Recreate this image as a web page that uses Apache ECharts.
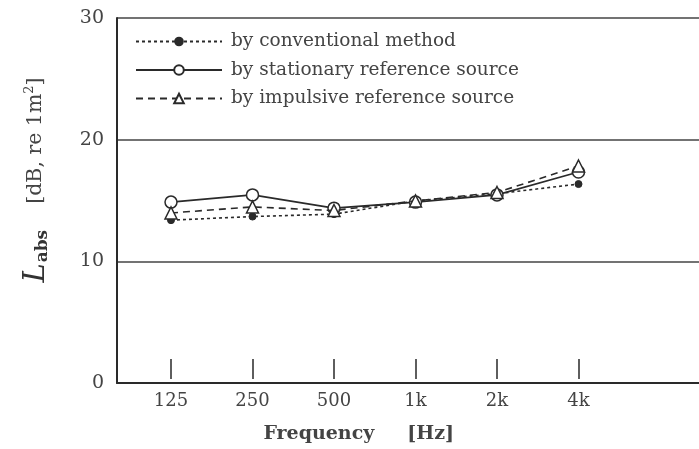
<!DOCTYPE html>
<html>
<head>
<meta charset="utf-8">
<script src="https://cdn.jsdelivr.net/npm/echarts@6/dist/echarts.min.js"></script>
<style>
html,body{margin:0;padding:0;background:#fff;}
#chart{width:699px;height:449px;}
</style>
</head>
<body>
<div id="chart"></div>
<script>
var categories = ['125', '250', '500', '1k', '2k', '4k'];
var conventional = [13.2, 13.5, 13.7, 14.8, 15.4, 16.2];
var stationary = [14.7, 15.3, 14.2, 14.7, 15.3, 17.2];
var impulsive = [13.8, 14.3, 14.0, 14.8, 15.5, 17.7];
var yTicks = [0, 10, 20, 30];

var ink = '#2a2a2a';
var serif = '"DejaVu Serif", "Liberation Serif", serif';

var chart = echarts.init(document.getElementById('chart'));
chart.setOption({
  animation: false,
  backgroundColor: '#fff',
  grid: [
    {left: 117, right: -5, top: 18, bottom: 66},
    {left: 130.25, width: 489, top: 18, bottom: 66}
  ],
  xAxis: [
    {gridIndex: 0, type: 'value', min: 0, max: 1,
      axisLine: {show: true, lineStyle: {color: ink, width: 2}},
      axisTick: {show: false}, axisLabel: {show: false}, splitLine: {show: false}},
    {gridIndex: 1, type: 'category', data: categories, boundaryGap: true,
      axisLine: {show: false},
      axisTick: {show: true, inside: true, length: 20, alignWithLabel: true, lineStyle: {color: ink, width: 1.5}},
      axisLabel: {color: '#444', fontFamily: serif, fontSize: 18, margin: 13},
      name: 'Frequency     [Hz]',
      nameLocation: 'middle', nameGap: 46,
      nameTextStyle: {color: '#444', fontFamily: serif, fontSize: 19, fontWeight: 'bold', padding: [0, 32, 0, 0]}}
  ],
  yAxis: [
    {gridIndex: 0, type: 'value', min: yTicks[0], max: yTicks[yTicks.length - 1], interval: 10,
      axisLine: {show: true, lineStyle: {color: ink, width: 2}},
      axisTick: {show: false},
      axisLabel: {color: '#444', fontFamily: serif, fontSize: 19, margin: 13},
      splitLine: {show: true, lineStyle: {color: '#444', width: 1.5}}},
    {gridIndex: 1, type: 'value', min: 0, max: 30, show: false, splitLine: {show: false}}
  ],
  legend: {
    orient: 'vertical', left: 130, top: 27, itemWidth: 86, itemHeight: 12, itemGap: 9.5,
    textStyle: {color: '#444', fontFamily: serif, fontSize: 18.5, padding: [0, 0, 0, 4]},
    data: ['by conventional method', 'by stationary reference source', 'by impulsive reference source']
  },
  series: [
    {name: 'by conventional method', type: 'line', xAxisIndex: 1, yAxisIndex: 1, data: conventional,
      symbol: 'circle', symbolSize: 7,
      itemStyle: {color: ink, borderColor: ink},
      lineStyle: {color: ink, width: 1.6, type: [3, 3]}, z: 3},
    {name: 'by stationary reference source', type: 'line', xAxisIndex: 1, yAxisIndex: 1, data: stationary,
      symbol: 'circle', symbolSize: 12,
      itemStyle: {color: '#fff', borderColor: ink, borderWidth: 1.5},
      lineStyle: {color: ink, width: 1.6}, z: 4},
    {name: 'by impulsive reference source', type: 'line', xAxisIndex: 1, yAxisIndex: 1, data: impulsive,
      symbol: 'triangle', symbolSize: 12,
      itemStyle: {color: '#fff', borderColor: ink, borderWidth: 1.5},
      lineStyle: {color: ink, width: 1.6, type: [7, 5]}, z: 5}
  ],
  graphic: [{
    type: 'text', x: 36, y: 180, rotation: Math.PI / 2,
    style: {
      text: '{L|L}{s|abs}{n|    [dB, re 1m}{sup|2}{n|]}',
      align: 'center', verticalAlign: 'middle',
      rich: {
        L: {fontFamily: serif, fontStyle: 'italic', fontSize: 29, fill: '#333'},
        s: {fontFamily: serif, fontWeight: 'bold', fontSize: 17, fill: '#333', padding: [13, 0, 0, 1]},
        n: {fontFamily: serif, fontSize: 20.5, fill: '#444'},
        sup: {fontFamily: serif, fontSize: 13, fill: '#444', padding: [0, 0, 13, 0]}
      }
    }
  }]
});
</script>
</body>
</html>
